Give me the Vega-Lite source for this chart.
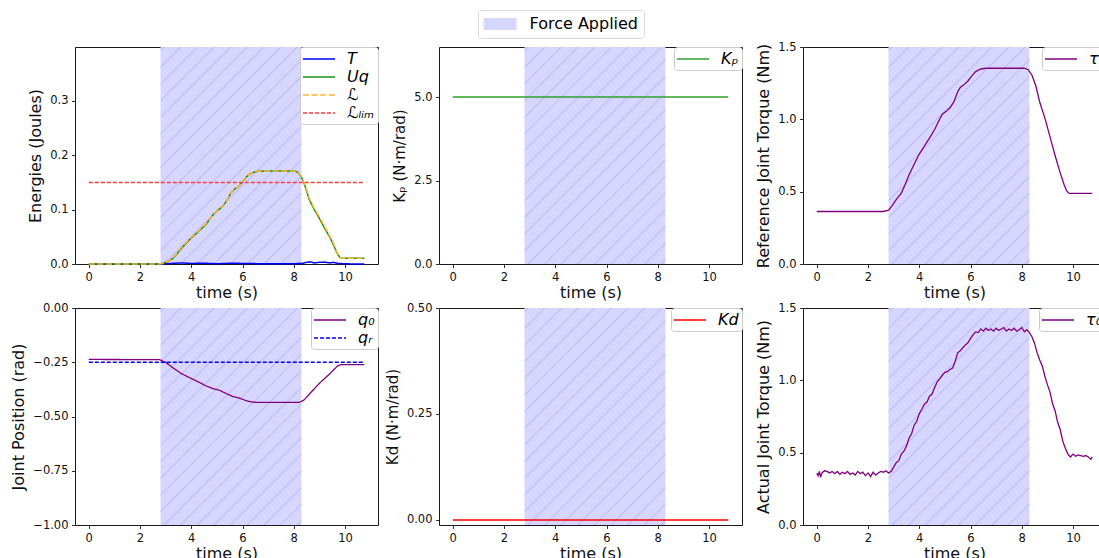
{
  "$schema": "https://vega.github.io/schema/vega-lite/v6.json",
  "padding": {"left": 10, "top": 9, "right": 0, "bottom": 0},
  "background": "white",
  "bounds": "flush",
  "columns": 3,
  "spacing": {"row": 44, "column": 61},
  "datasets": {
    "force": [{"x": 2.8, "x2": 8.3, "f": "Force Applied"}],
    "en": [
      {"t": 0, "v": 0, "s": "T"}, {"t": 2.8, "v": 0, "s": "T"}, {"t": 3.2, "v": 0.001, "s": "T"}, {"t": 3.6, "v": 0.002, "s": "T"}, {"t": 4.0, "v": 0.001, "s": "T"}, {"t": 4.5, "v": 0.0015, "s": "T"}, {"t": 5.0, "v": 0.0005, "s": "T"}, {"t": 5.6, "v": 0.0015, "s": "T"}, {"t": 6.2, "v": 0.0008, "s": "T"}, {"t": 7.0, "v": 0.0005, "s": "T"}, {"t": 8.0, "v": 0.0005, "s": "T"}, {"t": 8.3, "v": 0.001, "s": "T"}, {"t": 8.5, "v": 0.003, "s": "T"}, {"t": 8.65, "v": 0.004, "s": "T"}, {"t": 8.8, "v": 0.002, "s": "T"}, {"t": 9.0, "v": 0.003, "s": "T"}, {"t": 9.2, "v": 0.0035, "s": "T"}, {"t": 9.4, "v": 0.002, "s": "T"}, {"t": 9.55, "v": 0.003, "s": "T"}, {"t": 9.75, "v": 0.001, "s": "T"}, {"t": 10.0, "v": 0.0003, "s": "T"}, {"t": 10.75, "v": 0, "s": "T"},
      {"t": 0, "v": 0, "s": "Uq"}, {"t": 2.7, "v": 0, "s": "Uq"}, {"t": 2.9, "v": 0.001, "s": "Uq"}, {"t": 3.1, "v": 0.005, "s": "Uq"}, {"t": 3.3, "v": 0.011, "s": "Uq"}, {"t": 3.45, "v": 0.019, "s": "Uq"}, {"t": 3.6, "v": 0.028, "s": "Uq"}, {"t": 3.8, "v": 0.038, "s": "Uq"}, {"t": 4.0, "v": 0.048, "s": "Uq"}, {"t": 4.2, "v": 0.056, "s": "Uq"}, {"t": 4.4, "v": 0.065, "s": "Uq"}, {"t": 4.6, "v": 0.074, "s": "Uq"}, {"t": 4.8, "v": 0.088, "s": "Uq"}, {"t": 4.9, "v": 0.093, "s": "Uq"}, {"t": 5.1, "v": 0.101, "s": "Uq"}, {"t": 5.25, "v": 0.107, "s": "Uq"}, {"t": 5.4, "v": 0.118, "s": "Uq"}, {"t": 5.55, "v": 0.131, "s": "Uq"}, {"t": 5.7, "v": 0.138, "s": "Uq"}, {"t": 5.85, "v": 0.143, "s": "Uq"}, {"t": 6.0, "v": 0.151, "s": "Uq"}, {"t": 6.15, "v": 0.16, "s": "Uq"}, {"t": 6.3, "v": 0.166, "s": "Uq"}, {"t": 6.45, "v": 0.169, "s": "Uq"}, {"t": 6.6, "v": 0.1705, "s": "Uq"}, {"t": 7.0, "v": 0.171, "s": "Uq"}, {"t": 8.0, "v": 0.171, "s": "Uq"}, {"t": 8.15, "v": 0.169, "s": "Uq"}, {"t": 8.3, "v": 0.16, "s": "Uq"}, {"t": 8.45, "v": 0.142, "s": "Uq"}, {"t": 8.6, "v": 0.119, "s": "Uq"}, {"t": 8.8, "v": 0.1, "s": "Uq"}, {"t": 9.0, "v": 0.084, "s": "Uq"}, {"t": 9.2, "v": 0.066, "s": "Uq"}, {"t": 9.4, "v": 0.05, "s": "Uq"}, {"t": 9.55, "v": 0.035, "s": "Uq"}, {"t": 9.7, "v": 0.019, "s": "Uq"}, {"t": 9.8, "v": 0.012, "s": "Uq"}, {"t": 9.9, "v": 0.0105, "s": "Uq"}, {"t": 10.75, "v": 0.0105, "s": "Uq"},
      {"t": 0, "v": 0, "s": "ℒ"}, {"t": 2.7, "v": 0, "s": "ℒ"}, {"t": 2.9, "v": 0.001, "s": "ℒ"}, {"t": 3.1, "v": 0.005, "s": "ℒ"}, {"t": 3.3, "v": 0.012, "s": "ℒ"}, {"t": 3.45, "v": 0.02, "s": "ℒ"}, {"t": 3.6, "v": 0.03, "s": "ℒ"}, {"t": 3.8, "v": 0.039, "s": "ℒ"}, {"t": 4.0, "v": 0.049, "s": "ℒ"}, {"t": 4.2, "v": 0.057, "s": "ℒ"}, {"t": 4.4, "v": 0.066, "s": "ℒ"}, {"t": 4.6, "v": 0.075, "s": "ℒ"}, {"t": 4.8, "v": 0.088, "s": "ℒ"}, {"t": 4.9, "v": 0.093, "s": "ℒ"}, {"t": 5.1, "v": 0.101, "s": "ℒ"}, {"t": 5.25, "v": 0.107, "s": "ℒ"}, {"t": 5.4, "v": 0.118, "s": "ℒ"}, {"t": 5.55, "v": 0.131, "s": "ℒ"}, {"t": 5.7, "v": 0.138, "s": "ℒ"}, {"t": 5.85, "v": 0.143, "s": "ℒ"}, {"t": 6.0, "v": 0.151, "s": "ℒ"}, {"t": 6.15, "v": 0.16, "s": "ℒ"}, {"t": 6.3, "v": 0.166, "s": "ℒ"}, {"t": 6.45, "v": 0.169, "s": "ℒ"}, {"t": 6.6, "v": 0.1705, "s": "ℒ"}, {"t": 7.0, "v": 0.171, "s": "ℒ"}, {"t": 8.0, "v": 0.171, "s": "ℒ"}, {"t": 8.15, "v": 0.169, "s": "ℒ"}, {"t": 8.3, "v": 0.161, "s": "ℒ"}, {"t": 8.45, "v": 0.144, "s": "ℒ"}, {"t": 8.6, "v": 0.122, "s": "ℒ"}, {"t": 8.8, "v": 0.102, "s": "ℒ"}, {"t": 9.0, "v": 0.087, "s": "ℒ"}, {"t": 9.2, "v": 0.069, "s": "ℒ"}, {"t": 9.4, "v": 0.052, "s": "ℒ"}, {"t": 9.55, "v": 0.038, "s": "ℒ"}, {"t": 9.7, "v": 0.02, "s": "ℒ"}, {"t": 9.8, "v": 0.012, "s": "ℒ"}, {"t": 9.9, "v": 0.0105, "s": "ℒ"}, {"t": 10.75, "v": 0.0105, "s": "ℒ"},
      {"t": 0, "v": 0.15, "s": "ℒₗᵢₘ"}, {"t": 10.75, "v": 0.15, "s": "ℒₗᵢₘ"}
    ],
    "kp": [{"t": 0, "v": 5, "s": "Kₚ"}, {"t": 10.75, "v": 5, "s": "Kₚ"}],
    "tr": [
      {"t": 0, "v": 0.363}, {"t": 2.6, "v": 0.363}, {"t": 2.8, "v": 0.372}, {"t": 2.95, "v": 0.405}, {"t": 3.1, "v": 0.445}, {"t": 3.3, "v": 0.49}, {"t": 3.45, "v": 0.55}, {"t": 3.6, "v": 0.615}, {"t": 3.8, "v": 0.69}, {"t": 4.0, "v": 0.76}, {"t": 4.2, "v": 0.815}, {"t": 4.4, "v": 0.87}, {"t": 4.6, "v": 0.93}, {"t": 4.75, "v": 0.985}, {"t": 4.9, "v": 1.035}, {"t": 5.05, "v": 1.055}, {"t": 5.2, "v": 1.08}, {"t": 5.35, "v": 1.12}, {"t": 5.5, "v": 1.19}, {"t": 5.6, "v": 1.22}, {"t": 5.75, "v": 1.24}, {"t": 5.9, "v": 1.265}, {"t": 6.05, "v": 1.3}, {"t": 6.2, "v": 1.33}, {"t": 6.4, "v": 1.348}, {"t": 6.6, "v": 1.353}, {"t": 8.1, "v": 1.353}, {"t": 8.25, "v": 1.343}, {"t": 8.4, "v": 1.305}, {"t": 8.55, "v": 1.23}, {"t": 8.7, "v": 1.12}, {"t": 8.9, "v": 1.01}, {"t": 9.1, "v": 0.88}, {"t": 9.3, "v": 0.75}, {"t": 9.5, "v": 0.63}, {"t": 9.65, "v": 0.55}, {"t": 9.75, "v": 0.505}, {"t": 9.85, "v": 0.488}, {"t": 10.75, "v": 0.488}
    ],
    "q": [
      {"t": 0, "v": -0.237, "s": "q₀"}, {"t": 2.76, "v": -0.238, "s": "q₀"}, {"t": 3.02, "v": -0.252, "s": "q₀"}, {"t": 3.28, "v": -0.275, "s": "q₀"}, {"t": 3.6, "v": -0.301, "s": "q₀"}, {"t": 3.93, "v": -0.321, "s": "q₀"}, {"t": 4.32, "v": -0.343, "s": "q₀"}, {"t": 4.58, "v": -0.359, "s": "q₀"}, {"t": 4.84, "v": -0.371, "s": "q₀"}, {"t": 5.1, "v": -0.379, "s": "q₀"}, {"t": 5.36, "v": -0.394, "s": "q₀"}, {"t": 5.62, "v": -0.408, "s": "q₀"}, {"t": 5.88, "v": -0.415, "s": "q₀"}, {"t": 6.14, "v": -0.427, "s": "q₀"}, {"t": 6.4, "v": -0.434, "s": "q₀"}, {"t": 6.66, "v": -0.435, "s": "q₀"}, {"t": 8.22, "v": -0.435, "s": "q₀"}, {"t": 8.41, "v": -0.423, "s": "q₀"}, {"t": 8.67, "v": -0.389, "s": "q₀"}, {"t": 9.0, "v": -0.347, "s": "q₀"}, {"t": 9.39, "v": -0.305, "s": "q₀"}, {"t": 9.71, "v": -0.267, "s": "q₀"}, {"t": 9.84, "v": -0.261, "s": "q₀"}, {"t": 10.75, "v": -0.261, "s": "q₀"},
      {"t": 0, "v": -0.25, "s": "qᵣ"}, {"t": 10.75, "v": -0.25, "s": "qᵣ"}
    ],
    "kd": [{"t": 0, "v": 0, "s": "Kd"}, {"t": 10.75, "v": 0, "s": "Kd"}],
    "ta": [
      {"t": 0.0, "v": 0.36}, {"t": 0.05, "v": 0.34}, {"t": 0.1, "v": 0.37}, {"t": 0.15, "v": 0.33}, {"t": 0.2, "v": 0.36}, {"t": 0.3, "v": 0.375}, {"t": 0.4, "v": 0.37}, {"t": 0.5, "v": 0.36}, {"t": 0.6, "v": 0.37}, {"t": 0.7, "v": 0.355}, {"t": 0.8, "v": 0.37}, {"t": 0.9, "v": 0.35}, {"t": 1.0, "v": 0.365}, {"t": 1.1, "v": 0.355}, {"t": 1.2, "v": 0.37}, {"t": 1.3, "v": 0.35}, {"t": 1.4, "v": 0.36}, {"t": 1.5, "v": 0.345}, {"t": 1.6, "v": 0.37}, {"t": 1.7, "v": 0.355}, {"t": 1.8, "v": 0.365}, {"t": 1.9, "v": 0.34}, {"t": 2.0, "v": 0.36}, {"t": 2.1, "v": 0.335}, {"t": 2.2, "v": 0.365}, {"t": 2.3, "v": 0.345}, {"t": 2.4, "v": 0.36}, {"t": 2.5, "v": 0.37}, {"t": 2.6, "v": 0.365}, {"t": 2.7, "v": 0.375}, {"t": 2.8, "v": 0.36}, {"t": 2.9, "v": 0.37}, {"t": 3.0, "v": 0.4}, {"t": 3.1, "v": 0.43}, {"t": 3.2, "v": 0.445}, {"t": 3.3, "v": 0.49}, {"t": 3.4, "v": 0.51}, {"t": 3.5, "v": 0.545}, {"t": 3.6, "v": 0.6}, {"t": 3.7, "v": 0.63}, {"t": 3.8, "v": 0.69}, {"t": 3.9, "v": 0.715}, {"t": 4.0, "v": 0.77}, {"t": 4.1, "v": 0.8}, {"t": 4.2, "v": 0.835}, {"t": 4.3, "v": 0.85}, {"t": 4.4, "v": 0.89}, {"t": 4.5, "v": 0.905}, {"t": 4.6, "v": 0.95}, {"t": 4.7, "v": 0.99}, {"t": 4.8, "v": 1.01}, {"t": 4.9, "v": 1.035}, {"t": 5.0, "v": 1.055}, {"t": 5.1, "v": 1.06}, {"t": 5.2, "v": 1.075}, {"t": 5.3, "v": 1.085}, {"t": 5.4, "v": 1.13}, {"t": 5.5, "v": 1.19}, {"t": 5.6, "v": 1.205}, {"t": 5.7, "v": 1.225}, {"t": 5.8, "v": 1.245}, {"t": 5.9, "v": 1.26}, {"t": 6.0, "v": 1.29}, {"t": 6.1, "v": 1.315}, {"t": 6.2, "v": 1.335}, {"t": 6.3, "v": 1.33}, {"t": 6.4, "v": 1.355}, {"t": 6.5, "v": 1.34}, {"t": 6.6, "v": 1.36}, {"t": 6.7, "v": 1.345}, {"t": 6.8, "v": 1.355}, {"t": 6.9, "v": 1.34}, {"t": 7.0, "v": 1.36}, {"t": 7.1, "v": 1.345}, {"t": 7.2, "v": 1.355}, {"t": 7.3, "v": 1.365}, {"t": 7.4, "v": 1.34}, {"t": 7.5, "v": 1.355}, {"t": 7.6, "v": 1.345}, {"t": 7.7, "v": 1.36}, {"t": 7.8, "v": 1.34}, {"t": 7.9, "v": 1.35}, {"t": 8.0, "v": 1.365}, {"t": 8.1, "v": 1.335}, {"t": 8.2, "v": 1.35}, {"t": 8.3, "v": 1.33}, {"t": 8.4, "v": 1.3}, {"t": 8.5, "v": 1.255}, {"t": 8.6, "v": 1.19}, {"t": 8.7, "v": 1.14}, {"t": 8.8, "v": 1.1}, {"t": 8.9, "v": 1.03}, {"t": 9.0, "v": 0.97}, {"t": 9.1, "v": 0.92}, {"t": 9.2, "v": 0.84}, {"t": 9.3, "v": 0.79}, {"t": 9.4, "v": 0.71}, {"t": 9.5, "v": 0.66}, {"t": 9.6, "v": 0.58}, {"t": 9.7, "v": 0.53}, {"t": 9.8, "v": 0.49}, {"t": 9.9, "v": 0.47}, {"t": 10.0, "v": 0.49}, {"t": 10.1, "v": 0.475}, {"t": 10.2, "v": 0.485}, {"t": 10.3, "v": 0.48}, {"t": 10.4, "v": 0.475}, {"t": 10.5, "v": 0.48}, {"t": 10.6, "v": 0.47}, {"t": 10.7, "v": 0.455}, {"t": 10.75, "v": 0.47}
    ]
  },
  "resolve": {
    "scale": {"stroke": "independent", "strokeDash": "independent"},
    "legend": {"stroke": "independent", "strokeDash": "independent", "fill": "shared"}
  },
  "concat": [
    {
      "width": 303, "height": 217,
      "layer": [
        {"data": {"name": "force"}, "mark": "rect", "encoding": {
          "x": {"field": "x", "type": "quantitative", "scale": {"domain": [-0.5375, 11.2875], "nice": false, "zero": false}, "axis": {"values": [0, 2, 4, 6, 8, 10], "format": "d", "title": "time (s)"}},
          "x2": {"field": "x2"},
          "fill": {"field": "f", "type": "nominal", "scale": {"range": ["#d6d6fe"]}, "legend": {"orient": "none", "legendX": 403, "legendY": -37, "padding": 5.5, "symbolType": "M-2,-0.73H2V0.73H-2Z", "symbolSize": 272, "symbolStrokeWidth": 0, "symbolOffset": 8, "labelOffset": 21, "labelFontStyle": "normal", "strokeColor": "#d9d9d9", "fillColor": "white"}}}},
        {"data": {"name": "force"}, "mark": {"type": "rect", "stroke": null, "fill": {"gradient": "linear", "x1": 0, "y1": 0, "x2": 0.7537, "y2": 1.16, "stops": [
      {"offset": 0.006, "color": "#0000ff00"}, {"offset": 0.01, "color": "#0000ff22"}, {"offset": 0.014, "color": "#0000ff00"},
      {"offset": 0.0526, "color": "#0000ff00"}, {"offset": 0.0566, "color": "#0000ff22"}, {"offset": 0.0606, "color": "#0000ff00"},
      {"offset": 0.0992, "color": "#0000ff00"}, {"offset": 0.1032, "color": "#0000ff22"}, {"offset": 0.1072, "color": "#0000ff00"},
      {"offset": 0.1457, "color": "#0000ff00"}, {"offset": 0.1497, "color": "#0000ff22"}, {"offset": 0.1537, "color": "#0000ff00"},
      {"offset": 0.1923, "color": "#0000ff00"}, {"offset": 0.1963, "color": "#0000ff22"}, {"offset": 0.2003, "color": "#0000ff00"},
      {"offset": 0.2389, "color": "#0000ff00"}, {"offset": 0.2429, "color": "#0000ff22"}, {"offset": 0.2469, "color": "#0000ff00"},
      {"offset": 0.2855, "color": "#0000ff00"}, {"offset": 0.2895, "color": "#0000ff22"}, {"offset": 0.2935, "color": "#0000ff00"},
      {"offset": 0.3321, "color": "#0000ff00"}, {"offset": 0.3361, "color": "#0000ff22"}, {"offset": 0.3401, "color": "#0000ff00"},
      {"offset": 0.3786, "color": "#0000ff00"}, {"offset": 0.3826, "color": "#0000ff22"}, {"offset": 0.3866, "color": "#0000ff00"},
      {"offset": 0.4252, "color": "#0000ff00"}, {"offset": 0.4292, "color": "#0000ff22"}, {"offset": 0.4332, "color": "#0000ff00"},
      {"offset": 0.4718, "color": "#0000ff00"}, {"offset": 0.4758, "color": "#0000ff22"}, {"offset": 0.4798, "color": "#0000ff00"},
      {"offset": 0.5184, "color": "#0000ff00"}, {"offset": 0.5224, "color": "#0000ff22"}, {"offset": 0.5264, "color": "#0000ff00"},
      {"offset": 0.565, "color": "#0000ff00"}, {"offset": 0.569, "color": "#0000ff22"}, {"offset": 0.573, "color": "#0000ff00"},
      {"offset": 0.6115, "color": "#0000ff00"}, {"offset": 0.6155, "color": "#0000ff22"}, {"offset": 0.6195, "color": "#0000ff00"},
      {"offset": 0.6581, "color": "#0000ff00"}, {"offset": 0.6621, "color": "#0000ff22"}, {"offset": 0.6661, "color": "#0000ff00"},
      {"offset": 0.7047, "color": "#0000ff00"}, {"offset": 0.7087, "color": "#0000ff22"}, {"offset": 0.7127, "color": "#0000ff00"},
      {"offset": 0.7513, "color": "#0000ff00"}, {"offset": 0.7553, "color": "#0000ff22"}, {"offset": 0.7593, "color": "#0000ff00"},
      {"offset": 0.7979, "color": "#0000ff00"}, {"offset": 0.8019, "color": "#0000ff22"}, {"offset": 0.8059, "color": "#0000ff00"},
      {"offset": 0.8444, "color": "#0000ff00"}, {"offset": 0.8484, "color": "#0000ff22"}, {"offset": 0.8524, "color": "#0000ff00"},
      {"offset": 0.891, "color": "#0000ff00"}, {"offset": 0.895, "color": "#0000ff22"}, {"offset": 0.899, "color": "#0000ff00"},
      {"offset": 0.9376, "color": "#0000ff00"}, {"offset": 0.9416, "color": "#0000ff22"}, {"offset": 0.9456, "color": "#0000ff00"},
      {"offset": 0.9842, "color": "#0000ff00"}, {"offset": 0.9882, "color": "#0000ff22"}, {"offset": 0.9922, "color": "#0000ff00"}
    ]}}, "encoding": {"x": {"field": "x", "type": "quantitative"}, "x2": {"field": "x2"}}},
        {"data": {"name": "en"}, "mark": {"type": "line", "strokeWidth": 1.5}, "encoding": {
          "x": {"field": "t", "type": "quantitative"},
          "y": {"field": "v", "type": "quantitative", "scale": {"domain": [0, 0.399], "nice": false, "zero": false}, "axis": {"values": [0, 0.1, 0.2, 0.3], "format": ".1f", "title": "Energies (Joules)", "titlePadding": 6}},
          "stroke": {"field": "s", "type": "nominal", "sort": null, "scale": {"domain": ["T", "Uq", "ℒ", "ℒₗᵢₘ"], "range": ["#0000ff", "#1a8f1a", "#ffb733", "#ff3b3b"]}},
          "strokeDash": {"field": "s", "type": "nominal", "sort": null, "scale": {"domain": ["T", "Uq", "ℒ", "ℒₗᵢₘ"], "range": [[1, 0], [1, 0], [6, 2.6], [4, 2]]}}
        }}
      ]
    },
    {
      "width": 303, "height": 217,
      "layer": [
        {"data": {"name": "force"}, "mark": "rect", "encoding": {
          "x": {"field": "x", "type": "quantitative", "scale": {"domain": [-0.5375, 11.2875], "nice": false, "zero": false}, "axis": {"values": [0, 2, 4, 6, 8, 10], "format": "d", "title": "time (s)"}},
          "x2": {"field": "x2"},
          "fill": {"field": "f", "type": "nominal", "scale": {"range": ["#d6d6fe"]}, "legend": {"orient": "none", "legendX": 403, "legendY": -37, "padding": 5.5, "symbolType": "M-2,-0.73H2V0.73H-2Z", "symbolSize": 272, "symbolStrokeWidth": 0, "symbolOffset": 8, "labelOffset": 21, "labelFontStyle": "normal", "strokeColor": "#d9d9d9", "fillColor": "white"}}}},
        {"data": {"name": "force"}, "mark": {"type": "rect", "stroke": null, "fill": {"gradient": "linear", "x1": 0, "y1": 0, "x2": 0.7537, "y2": 1.16, "stops": [
      {"offset": 0.006, "color": "#0000ff00"}, {"offset": 0.01, "color": "#0000ff22"}, {"offset": 0.014, "color": "#0000ff00"},
      {"offset": 0.0526, "color": "#0000ff00"}, {"offset": 0.0566, "color": "#0000ff22"}, {"offset": 0.0606, "color": "#0000ff00"},
      {"offset": 0.0992, "color": "#0000ff00"}, {"offset": 0.1032, "color": "#0000ff22"}, {"offset": 0.1072, "color": "#0000ff00"},
      {"offset": 0.1457, "color": "#0000ff00"}, {"offset": 0.1497, "color": "#0000ff22"}, {"offset": 0.1537, "color": "#0000ff00"},
      {"offset": 0.1923, "color": "#0000ff00"}, {"offset": 0.1963, "color": "#0000ff22"}, {"offset": 0.2003, "color": "#0000ff00"},
      {"offset": 0.2389, "color": "#0000ff00"}, {"offset": 0.2429, "color": "#0000ff22"}, {"offset": 0.2469, "color": "#0000ff00"},
      {"offset": 0.2855, "color": "#0000ff00"}, {"offset": 0.2895, "color": "#0000ff22"}, {"offset": 0.2935, "color": "#0000ff00"},
      {"offset": 0.3321, "color": "#0000ff00"}, {"offset": 0.3361, "color": "#0000ff22"}, {"offset": 0.3401, "color": "#0000ff00"},
      {"offset": 0.3786, "color": "#0000ff00"}, {"offset": 0.3826, "color": "#0000ff22"}, {"offset": 0.3866, "color": "#0000ff00"},
      {"offset": 0.4252, "color": "#0000ff00"}, {"offset": 0.4292, "color": "#0000ff22"}, {"offset": 0.4332, "color": "#0000ff00"},
      {"offset": 0.4718, "color": "#0000ff00"}, {"offset": 0.4758, "color": "#0000ff22"}, {"offset": 0.4798, "color": "#0000ff00"},
      {"offset": 0.5184, "color": "#0000ff00"}, {"offset": 0.5224, "color": "#0000ff22"}, {"offset": 0.5264, "color": "#0000ff00"},
      {"offset": 0.565, "color": "#0000ff00"}, {"offset": 0.569, "color": "#0000ff22"}, {"offset": 0.573, "color": "#0000ff00"},
      {"offset": 0.6115, "color": "#0000ff00"}, {"offset": 0.6155, "color": "#0000ff22"}, {"offset": 0.6195, "color": "#0000ff00"},
      {"offset": 0.6581, "color": "#0000ff00"}, {"offset": 0.6621, "color": "#0000ff22"}, {"offset": 0.6661, "color": "#0000ff00"},
      {"offset": 0.7047, "color": "#0000ff00"}, {"offset": 0.7087, "color": "#0000ff22"}, {"offset": 0.7127, "color": "#0000ff00"},
      {"offset": 0.7513, "color": "#0000ff00"}, {"offset": 0.7553, "color": "#0000ff22"}, {"offset": 0.7593, "color": "#0000ff00"},
      {"offset": 0.7979, "color": "#0000ff00"}, {"offset": 0.8019, "color": "#0000ff22"}, {"offset": 0.8059, "color": "#0000ff00"},
      {"offset": 0.8444, "color": "#0000ff00"}, {"offset": 0.8484, "color": "#0000ff22"}, {"offset": 0.8524, "color": "#0000ff00"},
      {"offset": 0.891, "color": "#0000ff00"}, {"offset": 0.895, "color": "#0000ff22"}, {"offset": 0.899, "color": "#0000ff00"},
      {"offset": 0.9376, "color": "#0000ff00"}, {"offset": 0.9416, "color": "#0000ff22"}, {"offset": 0.9456, "color": "#0000ff00"},
      {"offset": 0.9842, "color": "#0000ff00"}, {"offset": 0.9882, "color": "#0000ff22"}, {"offset": 0.9922, "color": "#0000ff00"}
    ]}}, "encoding": {"x": {"field": "x", "type": "quantitative"}, "x2": {"field": "x2"}}},
        {"data": {"name": "kp"}, "mark": {"type": "line", "strokeWidth": 1.5}, "encoding": {
          "x": {"field": "t", "type": "quantitative"},
          "y": {"field": "v", "type": "quantitative", "scale": {"domain": [0, 6.5], "nice": false, "zero": false}, "axis": {"values": [0, 2.5, 5], "format": ".1f", "title": "Kₚ (N·m/rad)", "titleFontSize": 15, "titlePadding": 6}},
          "stroke": {"field": "s", "type": "nominal", "scale": {"domain": ["Kₚ"], "range": ["#2ca02c"]}}
        }}
      ]
    },
    {
      "width": 303, "height": 217,
      "layer": [
        {"data": {"name": "force"}, "mark": "rect", "encoding": {
          "x": {"field": "x", "type": "quantitative", "scale": {"domain": [-0.5375, 11.2875], "nice": false, "zero": false}, "axis": {"values": [0, 2, 4, 6, 8, 10], "format": "d", "title": "time (s)"}},
          "x2": {"field": "x2"},
          "fill": {"field": "f", "type": "nominal", "scale": {"range": ["#d6d6fe"]}, "legend": {"orient": "none", "legendX": 403, "legendY": -37, "padding": 5.5, "symbolType": "M-2,-0.73H2V0.73H-2Z", "symbolSize": 272, "symbolStrokeWidth": 0, "symbolOffset": 8, "labelOffset": 21, "labelFontStyle": "normal", "strokeColor": "#d9d9d9", "fillColor": "white"}}}},
        {"data": {"name": "force"}, "mark": {"type": "rect", "stroke": null, "fill": {"gradient": "linear", "x1": 0, "y1": 0, "x2": 0.7537, "y2": 1.16, "stops": [
      {"offset": 0.006, "color": "#0000ff00"}, {"offset": 0.01, "color": "#0000ff22"}, {"offset": 0.014, "color": "#0000ff00"},
      {"offset": 0.0526, "color": "#0000ff00"}, {"offset": 0.0566, "color": "#0000ff22"}, {"offset": 0.0606, "color": "#0000ff00"},
      {"offset": 0.0992, "color": "#0000ff00"}, {"offset": 0.1032, "color": "#0000ff22"}, {"offset": 0.1072, "color": "#0000ff00"},
      {"offset": 0.1457, "color": "#0000ff00"}, {"offset": 0.1497, "color": "#0000ff22"}, {"offset": 0.1537, "color": "#0000ff00"},
      {"offset": 0.1923, "color": "#0000ff00"}, {"offset": 0.1963, "color": "#0000ff22"}, {"offset": 0.2003, "color": "#0000ff00"},
      {"offset": 0.2389, "color": "#0000ff00"}, {"offset": 0.2429, "color": "#0000ff22"}, {"offset": 0.2469, "color": "#0000ff00"},
      {"offset": 0.2855, "color": "#0000ff00"}, {"offset": 0.2895, "color": "#0000ff22"}, {"offset": 0.2935, "color": "#0000ff00"},
      {"offset": 0.3321, "color": "#0000ff00"}, {"offset": 0.3361, "color": "#0000ff22"}, {"offset": 0.3401, "color": "#0000ff00"},
      {"offset": 0.3786, "color": "#0000ff00"}, {"offset": 0.3826, "color": "#0000ff22"}, {"offset": 0.3866, "color": "#0000ff00"},
      {"offset": 0.4252, "color": "#0000ff00"}, {"offset": 0.4292, "color": "#0000ff22"}, {"offset": 0.4332, "color": "#0000ff00"},
      {"offset": 0.4718, "color": "#0000ff00"}, {"offset": 0.4758, "color": "#0000ff22"}, {"offset": 0.4798, "color": "#0000ff00"},
      {"offset": 0.5184, "color": "#0000ff00"}, {"offset": 0.5224, "color": "#0000ff22"}, {"offset": 0.5264, "color": "#0000ff00"},
      {"offset": 0.565, "color": "#0000ff00"}, {"offset": 0.569, "color": "#0000ff22"}, {"offset": 0.573, "color": "#0000ff00"},
      {"offset": 0.6115, "color": "#0000ff00"}, {"offset": 0.6155, "color": "#0000ff22"}, {"offset": 0.6195, "color": "#0000ff00"},
      {"offset": 0.6581, "color": "#0000ff00"}, {"offset": 0.6621, "color": "#0000ff22"}, {"offset": 0.6661, "color": "#0000ff00"},
      {"offset": 0.7047, "color": "#0000ff00"}, {"offset": 0.7087, "color": "#0000ff22"}, {"offset": 0.7127, "color": "#0000ff00"},
      {"offset": 0.7513, "color": "#0000ff00"}, {"offset": 0.7553, "color": "#0000ff22"}, {"offset": 0.7593, "color": "#0000ff00"},
      {"offset": 0.7979, "color": "#0000ff00"}, {"offset": 0.8019, "color": "#0000ff22"}, {"offset": 0.8059, "color": "#0000ff00"},
      {"offset": 0.8444, "color": "#0000ff00"}, {"offset": 0.8484, "color": "#0000ff22"}, {"offset": 0.8524, "color": "#0000ff00"},
      {"offset": 0.891, "color": "#0000ff00"}, {"offset": 0.895, "color": "#0000ff22"}, {"offset": 0.899, "color": "#0000ff00"},
      {"offset": 0.9376, "color": "#0000ff00"}, {"offset": 0.9416, "color": "#0000ff22"}, {"offset": 0.9456, "color": "#0000ff00"},
      {"offset": 0.9842, "color": "#0000ff00"}, {"offset": 0.9882, "color": "#0000ff22"}, {"offset": 0.9922, "color": "#0000ff00"}
    ]}}, "encoding": {"x": {"field": "x", "type": "quantitative"}, "x2": {"field": "x2"}}},
        {"data": {"name": "tr"}, "transform": [{"calculate": "'τᵣ'", "as": "s"}], "mark": {"type": "line", "strokeWidth": 1.3}, "encoding": {
          "x": {"field": "t", "type": "quantitative"},
          "y": {"field": "v", "type": "quantitative", "scale": {"domain": [0, 1.5], "nice": false, "zero": false}, "axis": {"values": [0, 0.5, 1, 1.5], "format": ".1f", "title": "Reference Joint Torque (Nm)", "titlePadding": 6}},
          "stroke": {"field": "s", "type": "nominal", "scale": {"domain": ["τᵣ"], "range": ["#800080"]}}
        }}
      ]
    },
    {
      "width": 303, "height": 217,
      "layer": [
        {"data": {"name": "force"}, "mark": "rect", "encoding": {
          "x": {"field": "x", "type": "quantitative", "scale": {"domain": [-0.5375, 11.2875], "nice": false, "zero": false}, "axis": {"values": [0, 2, 4, 6, 8, 10], "format": "d", "title": "time (s)"}},
          "x2": {"field": "x2"},
          "fill": {"field": "f", "type": "nominal", "scale": {"range": ["#d6d6fe"]}, "legend": {"orient": "none", "legendX": 403, "legendY": -37, "padding": 5.5, "symbolType": "M-2,-0.73H2V0.73H-2Z", "symbolSize": 272, "symbolStrokeWidth": 0, "symbolOffset": 8, "labelOffset": 21, "labelFontStyle": "normal", "strokeColor": "#d9d9d9", "fillColor": "white"}}}},
        {"data": {"name": "force"}, "mark": {"type": "rect", "stroke": null, "fill": {"gradient": "linear", "x1": 0, "y1": 0, "x2": 0.7537, "y2": 1.16, "stops": [
      {"offset": 0.006, "color": "#0000ff00"}, {"offset": 0.01, "color": "#0000ff22"}, {"offset": 0.014, "color": "#0000ff00"},
      {"offset": 0.0526, "color": "#0000ff00"}, {"offset": 0.0566, "color": "#0000ff22"}, {"offset": 0.0606, "color": "#0000ff00"},
      {"offset": 0.0992, "color": "#0000ff00"}, {"offset": 0.1032, "color": "#0000ff22"}, {"offset": 0.1072, "color": "#0000ff00"},
      {"offset": 0.1457, "color": "#0000ff00"}, {"offset": 0.1497, "color": "#0000ff22"}, {"offset": 0.1537, "color": "#0000ff00"},
      {"offset": 0.1923, "color": "#0000ff00"}, {"offset": 0.1963, "color": "#0000ff22"}, {"offset": 0.2003, "color": "#0000ff00"},
      {"offset": 0.2389, "color": "#0000ff00"}, {"offset": 0.2429, "color": "#0000ff22"}, {"offset": 0.2469, "color": "#0000ff00"},
      {"offset": 0.2855, "color": "#0000ff00"}, {"offset": 0.2895, "color": "#0000ff22"}, {"offset": 0.2935, "color": "#0000ff00"},
      {"offset": 0.3321, "color": "#0000ff00"}, {"offset": 0.3361, "color": "#0000ff22"}, {"offset": 0.3401, "color": "#0000ff00"},
      {"offset": 0.3786, "color": "#0000ff00"}, {"offset": 0.3826, "color": "#0000ff22"}, {"offset": 0.3866, "color": "#0000ff00"},
      {"offset": 0.4252, "color": "#0000ff00"}, {"offset": 0.4292, "color": "#0000ff22"}, {"offset": 0.4332, "color": "#0000ff00"},
      {"offset": 0.4718, "color": "#0000ff00"}, {"offset": 0.4758, "color": "#0000ff22"}, {"offset": 0.4798, "color": "#0000ff00"},
      {"offset": 0.5184, "color": "#0000ff00"}, {"offset": 0.5224, "color": "#0000ff22"}, {"offset": 0.5264, "color": "#0000ff00"},
      {"offset": 0.565, "color": "#0000ff00"}, {"offset": 0.569, "color": "#0000ff22"}, {"offset": 0.573, "color": "#0000ff00"},
      {"offset": 0.6115, "color": "#0000ff00"}, {"offset": 0.6155, "color": "#0000ff22"}, {"offset": 0.6195, "color": "#0000ff00"},
      {"offset": 0.6581, "color": "#0000ff00"}, {"offset": 0.6621, "color": "#0000ff22"}, {"offset": 0.6661, "color": "#0000ff00"},
      {"offset": 0.7047, "color": "#0000ff00"}, {"offset": 0.7087, "color": "#0000ff22"}, {"offset": 0.7127, "color": "#0000ff00"},
      {"offset": 0.7513, "color": "#0000ff00"}, {"offset": 0.7553, "color": "#0000ff22"}, {"offset": 0.7593, "color": "#0000ff00"},
      {"offset": 0.7979, "color": "#0000ff00"}, {"offset": 0.8019, "color": "#0000ff22"}, {"offset": 0.8059, "color": "#0000ff00"},
      {"offset": 0.8444, "color": "#0000ff00"}, {"offset": 0.8484, "color": "#0000ff22"}, {"offset": 0.8524, "color": "#0000ff00"},
      {"offset": 0.891, "color": "#0000ff00"}, {"offset": 0.895, "color": "#0000ff22"}, {"offset": 0.899, "color": "#0000ff00"},
      {"offset": 0.9376, "color": "#0000ff00"}, {"offset": 0.9416, "color": "#0000ff22"}, {"offset": 0.9456, "color": "#0000ff00"},
      {"offset": 0.9842, "color": "#0000ff00"}, {"offset": 0.9882, "color": "#0000ff22"}, {"offset": 0.9922, "color": "#0000ff00"}
    ]}}, "encoding": {"x": {"field": "x", "type": "quantitative"}, "x2": {"field": "x2"}}},
        {"data": {"name": "q"}, "mark": {"type": "line", "strokeWidth": 1.3}, "encoding": {
          "x": {"field": "t", "type": "quantitative"},
          "y": {"field": "v", "type": "quantitative", "scale": {"domain": [-1, 0], "nice": false, "zero": false}, "axis": {"values": [-1, -0.75, -0.5, -0.25, 0], "format": ".2f", "title": "Joint Position (rad)", "titlePadding": 6}},
          "stroke": {"field": "s", "type": "nominal", "sort": null, "scale": {"domain": ["q₀", "qᵣ"], "range": ["#800080", "#0000ff"]}},
          "strokeDash": {"field": "s", "type": "nominal", "sort": null, "scale": {"domain": ["q₀", "qᵣ"], "range": [[1, 0], [4, 2]]}}
        }}
      ]
    },
    {
      "width": 303, "height": 217,
      "layer": [
        {"data": {"name": "force"}, "mark": "rect", "encoding": {
          "x": {"field": "x", "type": "quantitative", "scale": {"domain": [-0.5375, 11.2875], "nice": false, "zero": false}, "axis": {"values": [0, 2, 4, 6, 8, 10], "format": "d", "title": "time (s)"}},
          "x2": {"field": "x2"},
          "fill": {"field": "f", "type": "nominal", "scale": {"range": ["#d6d6fe"]}, "legend": {"orient": "none", "legendX": 403, "legendY": -37, "padding": 5.5, "symbolType": "M-2,-0.73H2V0.73H-2Z", "symbolSize": 272, "symbolStrokeWidth": 0, "symbolOffset": 8, "labelOffset": 21, "labelFontStyle": "normal", "strokeColor": "#d9d9d9", "fillColor": "white"}}}},
        {"data": {"name": "force"}, "mark": {"type": "rect", "stroke": null, "fill": {"gradient": "linear", "x1": 0, "y1": 0, "x2": 0.7537, "y2": 1.16, "stops": [
      {"offset": 0.006, "color": "#0000ff00"}, {"offset": 0.01, "color": "#0000ff22"}, {"offset": 0.014, "color": "#0000ff00"},
      {"offset": 0.0526, "color": "#0000ff00"}, {"offset": 0.0566, "color": "#0000ff22"}, {"offset": 0.0606, "color": "#0000ff00"},
      {"offset": 0.0992, "color": "#0000ff00"}, {"offset": 0.1032, "color": "#0000ff22"}, {"offset": 0.1072, "color": "#0000ff00"},
      {"offset": 0.1457, "color": "#0000ff00"}, {"offset": 0.1497, "color": "#0000ff22"}, {"offset": 0.1537, "color": "#0000ff00"},
      {"offset": 0.1923, "color": "#0000ff00"}, {"offset": 0.1963, "color": "#0000ff22"}, {"offset": 0.2003, "color": "#0000ff00"},
      {"offset": 0.2389, "color": "#0000ff00"}, {"offset": 0.2429, "color": "#0000ff22"}, {"offset": 0.2469, "color": "#0000ff00"},
      {"offset": 0.2855, "color": "#0000ff00"}, {"offset": 0.2895, "color": "#0000ff22"}, {"offset": 0.2935, "color": "#0000ff00"},
      {"offset": 0.3321, "color": "#0000ff00"}, {"offset": 0.3361, "color": "#0000ff22"}, {"offset": 0.3401, "color": "#0000ff00"},
      {"offset": 0.3786, "color": "#0000ff00"}, {"offset": 0.3826, "color": "#0000ff22"}, {"offset": 0.3866, "color": "#0000ff00"},
      {"offset": 0.4252, "color": "#0000ff00"}, {"offset": 0.4292, "color": "#0000ff22"}, {"offset": 0.4332, "color": "#0000ff00"},
      {"offset": 0.4718, "color": "#0000ff00"}, {"offset": 0.4758, "color": "#0000ff22"}, {"offset": 0.4798, "color": "#0000ff00"},
      {"offset": 0.5184, "color": "#0000ff00"}, {"offset": 0.5224, "color": "#0000ff22"}, {"offset": 0.5264, "color": "#0000ff00"},
      {"offset": 0.565, "color": "#0000ff00"}, {"offset": 0.569, "color": "#0000ff22"}, {"offset": 0.573, "color": "#0000ff00"},
      {"offset": 0.6115, "color": "#0000ff00"}, {"offset": 0.6155, "color": "#0000ff22"}, {"offset": 0.6195, "color": "#0000ff00"},
      {"offset": 0.6581, "color": "#0000ff00"}, {"offset": 0.6621, "color": "#0000ff22"}, {"offset": 0.6661, "color": "#0000ff00"},
      {"offset": 0.7047, "color": "#0000ff00"}, {"offset": 0.7087, "color": "#0000ff22"}, {"offset": 0.7127, "color": "#0000ff00"},
      {"offset": 0.7513, "color": "#0000ff00"}, {"offset": 0.7553, "color": "#0000ff22"}, {"offset": 0.7593, "color": "#0000ff00"},
      {"offset": 0.7979, "color": "#0000ff00"}, {"offset": 0.8019, "color": "#0000ff22"}, {"offset": 0.8059, "color": "#0000ff00"},
      {"offset": 0.8444, "color": "#0000ff00"}, {"offset": 0.8484, "color": "#0000ff22"}, {"offset": 0.8524, "color": "#0000ff00"},
      {"offset": 0.891, "color": "#0000ff00"}, {"offset": 0.895, "color": "#0000ff22"}, {"offset": 0.899, "color": "#0000ff00"},
      {"offset": 0.9376, "color": "#0000ff00"}, {"offset": 0.9416, "color": "#0000ff22"}, {"offset": 0.9456, "color": "#0000ff00"},
      {"offset": 0.9842, "color": "#0000ff00"}, {"offset": 0.9882, "color": "#0000ff22"}, {"offset": 0.9922, "color": "#0000ff00"}
    ]}}, "encoding": {"x": {"field": "x", "type": "quantitative"}, "x2": {"field": "x2"}}},
        {"data": {"name": "kd"}, "mark": {"type": "line", "strokeWidth": 1.5}, "encoding": {
          "x": {"field": "t", "type": "quantitative"},
          "y": {"field": "v", "type": "quantitative", "scale": {"domain": [-0.012, 0.5], "nice": false, "zero": false}, "axis": {"values": [0, 0.25, 0.5], "format": ".2f", "title": "Kd (N·m/rad)", "titleFontSize": 15, "titlePadding": 6}},
          "stroke": {"field": "s", "type": "nominal", "scale": {"domain": ["Kd"], "range": ["#ff0000"]}}
        }}
      ]
    },
    {
      "width": 303, "height": 217,
      "layer": [
        {"data": {"name": "force"}, "mark": "rect", "encoding": {
          "x": {"field": "x", "type": "quantitative", "scale": {"domain": [-0.5375, 11.2875], "nice": false, "zero": false}, "axis": {"values": [0, 2, 4, 6, 8, 10], "format": "d", "title": "time (s)"}},
          "x2": {"field": "x2"},
          "fill": {"field": "f", "type": "nominal", "scale": {"range": ["#d6d6fe"]}, "legend": {"orient": "none", "legendX": 403, "legendY": -37, "padding": 5.5, "symbolType": "M-2,-0.73H2V0.73H-2Z", "symbolSize": 272, "symbolStrokeWidth": 0, "symbolOffset": 8, "labelOffset": 21, "labelFontStyle": "normal", "strokeColor": "#d9d9d9", "fillColor": "white"}}}},
        {"data": {"name": "force"}, "mark": {"type": "rect", "stroke": null, "fill": {"gradient": "linear", "x1": 0, "y1": 0, "x2": 0.7537, "y2": 1.16, "stops": [
      {"offset": 0.006, "color": "#0000ff00"}, {"offset": 0.01, "color": "#0000ff22"}, {"offset": 0.014, "color": "#0000ff00"},
      {"offset": 0.0526, "color": "#0000ff00"}, {"offset": 0.0566, "color": "#0000ff22"}, {"offset": 0.0606, "color": "#0000ff00"},
      {"offset": 0.0992, "color": "#0000ff00"}, {"offset": 0.1032, "color": "#0000ff22"}, {"offset": 0.1072, "color": "#0000ff00"},
      {"offset": 0.1457, "color": "#0000ff00"}, {"offset": 0.1497, "color": "#0000ff22"}, {"offset": 0.1537, "color": "#0000ff00"},
      {"offset": 0.1923, "color": "#0000ff00"}, {"offset": 0.1963, "color": "#0000ff22"}, {"offset": 0.2003, "color": "#0000ff00"},
      {"offset": 0.2389, "color": "#0000ff00"}, {"offset": 0.2429, "color": "#0000ff22"}, {"offset": 0.2469, "color": "#0000ff00"},
      {"offset": 0.2855, "color": "#0000ff00"}, {"offset": 0.2895, "color": "#0000ff22"}, {"offset": 0.2935, "color": "#0000ff00"},
      {"offset": 0.3321, "color": "#0000ff00"}, {"offset": 0.3361, "color": "#0000ff22"}, {"offset": 0.3401, "color": "#0000ff00"},
      {"offset": 0.3786, "color": "#0000ff00"}, {"offset": 0.3826, "color": "#0000ff22"}, {"offset": 0.3866, "color": "#0000ff00"},
      {"offset": 0.4252, "color": "#0000ff00"}, {"offset": 0.4292, "color": "#0000ff22"}, {"offset": 0.4332, "color": "#0000ff00"},
      {"offset": 0.4718, "color": "#0000ff00"}, {"offset": 0.4758, "color": "#0000ff22"}, {"offset": 0.4798, "color": "#0000ff00"},
      {"offset": 0.5184, "color": "#0000ff00"}, {"offset": 0.5224, "color": "#0000ff22"}, {"offset": 0.5264, "color": "#0000ff00"},
      {"offset": 0.565, "color": "#0000ff00"}, {"offset": 0.569, "color": "#0000ff22"}, {"offset": 0.573, "color": "#0000ff00"},
      {"offset": 0.6115, "color": "#0000ff00"}, {"offset": 0.6155, "color": "#0000ff22"}, {"offset": 0.6195, "color": "#0000ff00"},
      {"offset": 0.6581, "color": "#0000ff00"}, {"offset": 0.6621, "color": "#0000ff22"}, {"offset": 0.6661, "color": "#0000ff00"},
      {"offset": 0.7047, "color": "#0000ff00"}, {"offset": 0.7087, "color": "#0000ff22"}, {"offset": 0.7127, "color": "#0000ff00"},
      {"offset": 0.7513, "color": "#0000ff00"}, {"offset": 0.7553, "color": "#0000ff22"}, {"offset": 0.7593, "color": "#0000ff00"},
      {"offset": 0.7979, "color": "#0000ff00"}, {"offset": 0.8019, "color": "#0000ff22"}, {"offset": 0.8059, "color": "#0000ff00"},
      {"offset": 0.8444, "color": "#0000ff00"}, {"offset": 0.8484, "color": "#0000ff22"}, {"offset": 0.8524, "color": "#0000ff00"},
      {"offset": 0.891, "color": "#0000ff00"}, {"offset": 0.895, "color": "#0000ff22"}, {"offset": 0.899, "color": "#0000ff00"},
      {"offset": 0.9376, "color": "#0000ff00"}, {"offset": 0.9416, "color": "#0000ff22"}, {"offset": 0.9456, "color": "#0000ff00"},
      {"offset": 0.9842, "color": "#0000ff00"}, {"offset": 0.9882, "color": "#0000ff22"}, {"offset": 0.9922, "color": "#0000ff00"}
    ]}}, "encoding": {"x": {"field": "x", "type": "quantitative"}, "x2": {"field": "x2"}}},
        {"data": {"name": "ta"}, "transform": [{"calculate": "'τ₀'", "as": "s"}], "mark": {"type": "line", "strokeWidth": 1.3}, "encoding": {
          "x": {"field": "t", "type": "quantitative"},
          "y": {"field": "v", "type": "quantitative", "scale": {"domain": [0, 1.5], "nice": false, "zero": false}, "axis": {"values": [0, 0.5, 1, 1.5], "format": ".1f", "title": "Actual Joint Torque (Nm)", "titlePadding": 6}},
          "stroke": {"field": "s", "type": "nominal", "scale": {"domain": ["τ₀"], "range": ["#800080"]}}
        }}
      ]
    }
  ],
  "config": {
    "font": "DejaVu Sans",
    "view": {"stroke": "#1a1a1a", "strokeWidth": 1},
    "axis": {"labelFont": "DejaVu Sans", "labelFontSize": 11.5, "labelColor": "#111111", "titleFont": "DejaVu Sans", "titleFontSize": 16, "titleFontWeight": "normal", "titleColor": "#111111", "tickColor": "#1a1a1a", "tickSize": 3.5, "tickWidth": 0.9, "labelPadding": 3.5, "titlePadding": 2, "domain": false, "grid": false, "labelFlush": false, "labelOverlap": false},
    "legend": {"orient": "top-right", "offset": 0, "title": null, "padding": 3, "fillColor": "rgba(255,255,255,0.8)", "strokeColor": "#cccccc", "cornerRadius": 3, "labelFont": "DejaVu Sans", "labelFontSize": 16, "labelFontStyle": "italic", "labelColor": "#000000", "symbolType": "M-2,0H2", "symbolSize": 256, "symbolStrokeWidth": 1.5, "symbolOffset": 7, "labelOffset": 19, "rowPadding": 1}
  }
}
